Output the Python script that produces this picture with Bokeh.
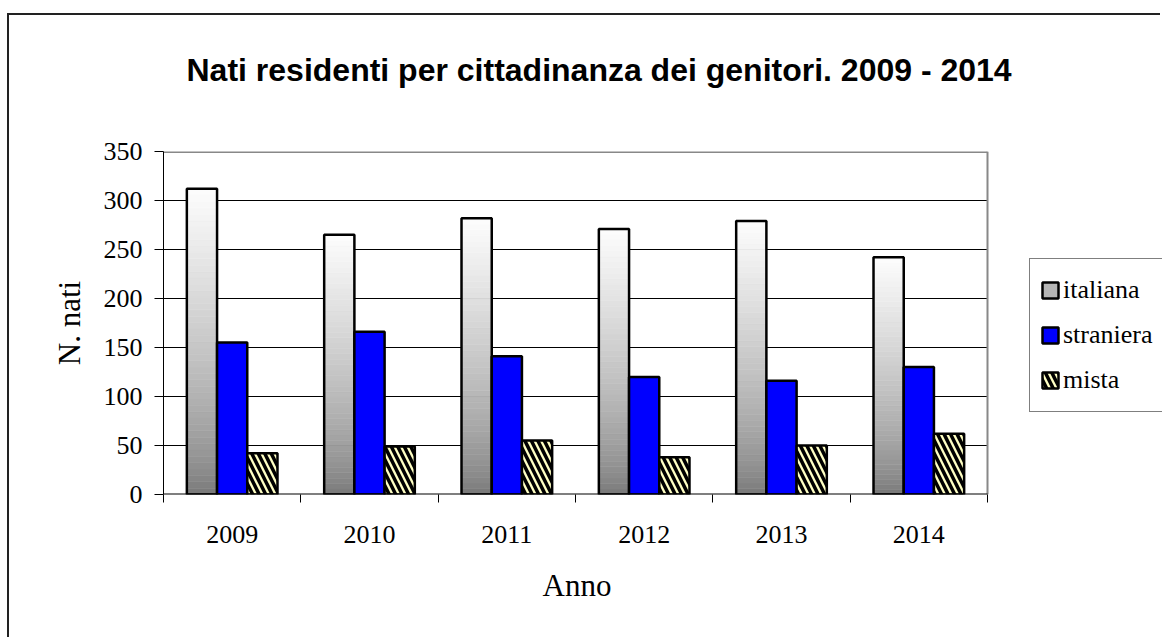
import numpy as np
from bokeh.plotting import figure
from bokeh.models import Legend, LegendItem, FixedTicker, Range1d, Title
from bokeh.embed import file_html
from bokeh.resources import INLINE

# ---- data ----
years = ["2009", "2010", "2011", "2012", "2013", "2014"]
italiana = [312, 265, 282, 271, 279, 242]
straniera = [155, 166, 141, 120, 116, 130]
mista = [42, 49, 55, 38, 50, 62]
series_names = ["italiana", "straniera", "mista"]
y_ticks = [0, 50, 100, 150, 200, 250, 300, 350]

W, H = 1153, 624
FL, FR, FT, FB = 154, 978, 136, 479  # plot-area edges in canvas px
n = len(years)
x0, x1 = -0.5, n - 0.5               # plot area in data units
# the frame runs to the right edge so that the legend can sit inside it
x_end = x0 + (x1 - x0) * (W - FL) / (FR - FL)

p = figure(width=W, height=H, output_backend="svg", toolbar_location=None,
           title=None,
           x_range=Range1d(x0, x_end), y_range=Range1d(0, y_ticks[-1]),
           min_border_left=FL, min_border_right=0,
           min_border_top=FT, min_border_bottom=H - FB,
           background_fill_color="white", border_fill_color="white")
p.styles = {"border-left": "2px solid #222", "border-top": "2px solid #222",
            "margin-top": "13px", "margin-left": "7px"}
p.outline_line_color = None
p.xgrid.grid_line_color = None
p.ygrid.grid_line_color = None

# grid lines and plot-area border, limited to the plot area
gy = y_ticks[1:-1]
p.segment(x0=[x0] * len(gy), x1=[x1] * len(gy), y0=gy, y1=gy,
          line_color="black", line_width=1)
p.segment(x0=[x0], x1=[x1], y0=[y_ticks[-1]], y1=[y_ticks[-1]],
          line_color="#888888", line_width=3)
p.segment(x0=[x1], x1=[x1], y0=[0], y1=[y_ticks[-1]],
          line_color="#888888", line_width=2)

idx = np.arange(n)
bw = 0.22
offs = [-bw, 0.0, bw]

# gradient bars for "italiana" built as stacked slices of each bar
K = 48
order = list(range(K // 3, K)) + list(range(0, K // 3))
gx, gb, gt, gc = [], [], [], []
for i, v in enumerate(italiana):
    for k in order:
        t0, t1 = k / K, (k + 1) / K
        tm = (t0 + t1) / 2
        g = int(round(117 + (253 - 117) * tm ** 0.7))
        gx.append(idx[i] + offs[0])
        gb.append(v * t0)
        gt.append(v * t1)
        gc.append("#%02x%02x%02x" % (g, g, g))

r_grad = p.vbar(x=gx, bottom=gb, top=gt, width=bw, fill_color=gc,
                line_color=gc, line_width=0.6)
r_out = p.vbar(x=idx + offs[0], top=italiana, width=bw, fill_color=None,
               line_color="black", line_width=2.5)
r_str = p.vbar(x=idx + offs[1], top=straniera, width=bw, fill_color="#0000ff",
               line_color="black", line_width=2.5)
r_mis = p.vbar(x=idx + offs[2], top=mista, width=bw, fill_color="#ffffc4",
               line_color="black", line_width=2.5, hatch_pattern="\\",
               hatch_color="black", hatch_weight=3.5, hatch_scale=13)

# x axis line (only across the plot area)
p.segment(x0=[x0], x1=[x1], y0=[0], y1=[0], line_color="black", line_width=2)

# title (a thin spacer title keeps it at the right height above the frame)
p.add_layout(Title(text=" ", text_font_size="10px", standoff=51), "above")
p.add_layout(Title(text="Nati residenti per cittadinanza dei genitori. 2009 - 2014",
                   align="left", offset=23, text_font="Liberation Sans",
                   text_font_size="32px", text_font_style="bold",
                   text_color="black", standoff=0), "above")

# y axis
ya = p.yaxis[0]
ya.ticker = FixedTicker(ticks=y_ticks)
ya.axis_line_color = "black"
ya.axis_line_width = 1
ya.major_tick_out = 9
ya.major_tick_in = 0
ya.minor_tick_out = 0
ya.minor_tick_in = 0
ya.major_tick_line_color = "black"
ya.major_label_text_font = "Liberation Serif"
ya.major_label_text_font_size = "26px"
ya.major_label_text_color = "black"
ya.major_label_standoff = 12
ya.axis_label = "N. nati"
ya.axis_label_text_font = "Liberation Serif"
ya.axis_label_text_font_size = "31px"
ya.axis_label_text_font_style = "normal"
ya.axis_label_text_color = "black"
ya.axis_label_standoff = 14

# x axis: labels at group centres, ticks at group boundaries
xa = p.xaxis[0]
xa.ticker = FixedTicker(ticks=[int(i) for i in idx],
                        minor_ticks=[float(i) - 0.5 for i in idx] + [x1])
xa.major_label_overrides = {int(i): years[i] for i in idx}
xa.axis_line_color = None
xa.major_tick_out = 0
xa.major_tick_in = 0
xa.minor_tick_out = 8
xa.minor_tick_in = 0
xa.minor_tick_line_color = "black"
xa.major_label_text_font = "Liberation Serif"
xa.major_label_text_font_size = "26px"
xa.major_label_text_color = "black"
xa.major_label_standoff = 23

# x axis title, centred under the plot area
p.add_layout(Title(text="Anno", align="left", offset=379,
                   text_font="Liberation Serif", text_font_size="31px",
                   text_font_style="normal", text_color="black",
                   vertical_align="top", standoff=44), "below")

# legend
legend = Legend(items=[
    LegendItem(label=series_names[0], renderers=[r_grad, r_out], index=0),
    LegendItem(label=series_names[1], renderers=[r_str]),
    LegendItem(label=series_names[2], renderers=[r_mis]),
], location=(1020 - FL, FB - 397), margin=0, padding=10, spacing=3,
    label_height=42, glyph_height=20, glyph_width=20, label_standoff=3,
    label_text_font="Liberation Serif", label_text_font_size="26px",
    label_text_color="black", border_line_color="black",
    border_line_width=1.5, background_fill_color="white",
    background_fill_alpha=1)
p.add_layout(legend, "center")

open("out.html", "w").write(file_html(p, INLINE))
